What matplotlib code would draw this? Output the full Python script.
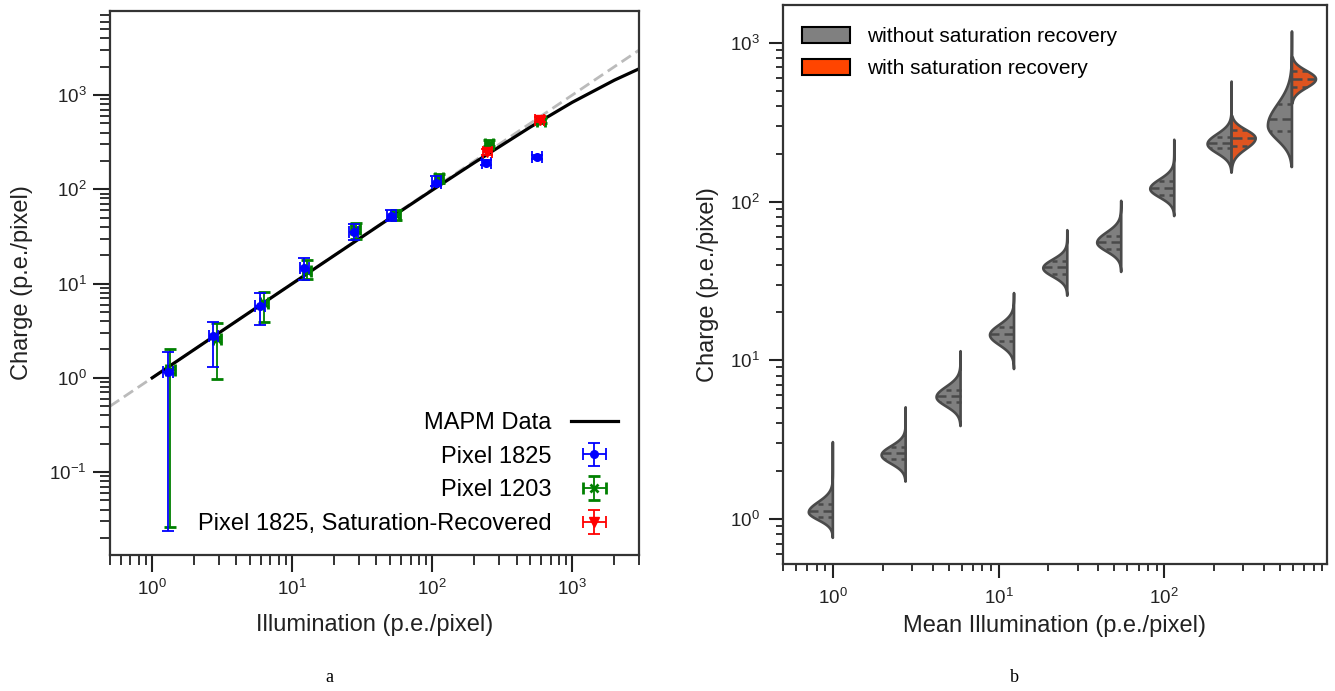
import numpy as np
import matplotlib
matplotlib.use("Agg")
import matplotlib.pyplot as plt
from matplotlib.patches import Patch

plt.rcParams["font.family"] = ["Liberation Sans", "DejaVu Sans"]
plt.rcParams["mathtext.fontset"] = "custom"
plt.rcParams["mathtext.rm"] = "Liberation Sans"
plt.rcParams["mathtext.it"] = "Liberation Sans:italic"
plt.rcParams["mathtext.bf"] = "Liberation Sans:bold"

# ---- panel a: charge vs illumination ----
mapm_x = [1, 2, 5, 10, 20, 50, 100, 200, 500, 1000, 2000, 3000]
mapm_y = [1.0, 2.0, 5.0, 9.98, 19.9, 49.5, 98, 192, 456, 838, 1440, 1900]
ident_x = [0.5, 3000]
ident_y = [0.5, 3000]

p1825_x = [1.30, 2.73, 5.9, 12.2, 27.5, 51, 107, 243, 562]
p1825_y = [1.15, 2.8, 5.8, 14.5, 35, 52, 118, 192, 218]
p1825_ylo = [0.024, 1.3, 3.6, 11.0, 29, 46, 108, 182, 208]
p1825_yhi = [1.9, 3.9, 7.9, 18.5, 43, 60, 138, 205, 230]
p1825_xerr = [0.1, 0.2, 0.45, 0.9, 2.0, 3.8, 8, 18, 42]

p1203_x = [1.35, 2.9, 6.3, 12.8, 28.5, 55, 112, 255, 600]
p1203_y = [1.2, 2.6, 6.3, 13.5, 38, 54, 132, 305, 530]
p1203_ylo = [0.026, 0.98, 3.9, 11.2, 30, 47, 118, 285, 500]
p1203_yhi = [2.0, 3.8, 8.2, 18.0, 44, 61, 145, 330, 570]
p1203_xerr = [0.1, 0.2, 0.45, 0.9, 2.0, 3.8, 8, 18, 42]

rec_x = [248, 585]
rec_y = [250, 545]
rec_ylo = [230, 515]
rec_yhi = [270, 580]
rec_xerr = [18, 42]

# ---- panel b: split violins ----
viol_x = [1.0, 2.75, 5.9, 12.4, 26, 55, 115, 255, 590]
gray_min = [0.76, 1.72, 3.85, 8.8, 25.5, 36, 81, 152, 165]
gray_max = [3.05, 5.05, 11.4, 26.5, 66, 101, 245, 570, 1180]
gray_mode = [1.1, 2.52, 5.85, 14.4, 38, 55, 120, 230, 300]
gray_body_lo = [0.83, 1.85, 4.2, 10.0, 28, 40, 88, 165, 178]
gray_body_hi = [1.6, 3.5, 8.5, 21, 52, 80, 170, 330, 650]
gray_q1 = [1.03, 2.38, 5.45, 13.2, 35, 50, 110, 216, 277]
gray_med = [1.12, 2.6, 5.95, 14.6, 38.5, 55.5, 121, 234, 330]
gray_q3 = [1.24, 2.85, 6.5, 16.2, 42, 61, 135, 256, 410]

red_x = [255, 590]
red_min = [155, 415]
red_max = [345, 810]
red_mode = [250, 590]
red_body_lo = [170, 430]
red_body_hi = [340, 800]
red_q1 = [223, 530]
red_med = [252, 595]
red_q3 = [282, 660]

EDGE = "#4a4a4a"
GRAY = "#7f7f7f"
RED = "#df5420"
HALF_W = 0.145  # max half width in decades of x


def profile(t, mode, body_lo, body_hi):
    m = np.log10(mode)
    s_lo = (m - np.log10(body_lo)) / 2.5
    s_hi = (np.log10(body_hi) - m) / 2.5
    s = np.where(t < m, s_lo, s_hi)
    return np.exp(-0.5 * ((t - m) / s) ** 2)


def half_violin(ax, xc, lo, hi, mode, blo, bhi, quarts, side, color):
    lx = np.log10(xc)
    t = np.linspace(np.log10(lo), np.log10(hi), 300)
    d = profile(t, mode, blo, bhi)
    xs = 10 ** (lx + side * HALF_W * d)
    px = np.concatenate([xs, [xc, xc]])
    py = np.concatenate([10 ** t, [hi, lo]])
    ax.fill(px, py, facecolor=color, edgecolor=EDGE, lw=1.9,
            joinstyle="round", zorder=2)
    for q, dash in zip(quarts, [(2.0, 2.0), (4.0, 2.0), (2.0, 2.0)]):
        dq = profile(np.log10(q), mode, blo, bhi)
        ax.plot([xc, 10 ** (lx + side * HALF_W * dq)], [q, q], color=EDGE,
                lw=1.8, dashes=dash, solid_capstyle="butt", zorder=3)


fig = plt.figure(figsize=(13.35, 6.91), dpi=100)
ax1 = fig.add_axes([0.0824, 0.1968, 0.3963, 0.7873])
ax2 = fig.add_axes([0.5865, 0.1838, 0.4075, 0.8089])

# panel a
ax1.plot(ident_x, ident_y, color="#bbbbbb", lw=2.0, ls=(0, (4, 2)), zorder=1)
mapm_line, = ax1.plot(mapm_x, mapm_y, color="black", lw=2.3, zorder=2,
                      label="MAPM Data")


def yerr_of(y, lo, hi):
    return [np.array(y) - np.array(lo), np.array(hi) - np.array(y)]


e1 = ax1.errorbar(p1825_x, p1825_y, yerr=yerr_of(p1825_y, p1825_ylo, p1825_yhi),
                  xerr=p1825_xerr, fmt="o", color="#0000ff", ms=5.5, elinewidth=1.3,
                  capsize=4.5, capthick=1.3, zorder=4, label="Pixel 1825")
e2 = ax1.errorbar(p1203_x, p1203_y, yerr=yerr_of(p1203_y, p1203_ylo, p1203_yhi),
                  xerr=p1203_xerr, fmt="x", color="#008000", ms=6, mew=2,
                  elinewidth=1.3, capsize=4.5, capthick=1.3, zorder=3,
                  label="Pixel 1203")
e3 = ax1.errorbar(rec_x, rec_y, yerr=yerr_of(rec_y, rec_ylo, rec_yhi),
                  xerr=rec_xerr, fmt="v", color="#ff0000", ms=7, elinewidth=1.3,
                  capsize=4.5, capthick=1.3, zorder=5,
                  label="Pixel 1825, Saturation-Recovered")

ax1.set_xscale("log")
ax1.set_yscale("log")
ax1.set_xlim(0.5, 3000)
ax1.set_ylim(0.0132, 7800)
ax1.set_xlabel("Illumination (p.e./pixel)", fontsize=17)
ax1.set_ylabel("Charge (p.e./pixel)", fontsize=17)
ax1.xaxis.set_label_coords(0.5, -0.108)
ax1.yaxis.set_label_coords(-0.146, 0.5)
ax1.legend(handles=[mapm_line, e1, e2, e3], loc="lower right",
           bbox_to_anchor=(0.978, 0.019), borderaxespad=0, frameon=False,
           markerfirst=False, fontsize=17)
ax1.tick_params(which="major", length=12, width=1.5, pad=5, labelsize=13.5,
                colors="#222222")
ax1.tick_params(which="minor", length=7, width=1.3, colors="#222222")

# panel b
for i in range(len(viol_x)):
    half_violin(ax2, viol_x[i], gray_min[i], gray_max[i], gray_mode[i],
                gray_body_lo[i], gray_body_hi[i],
                [gray_q1[i], gray_med[i], gray_q3[i]], -1, GRAY)
for i in range(len(red_x)):
    half_violin(ax2, red_x[i], red_min[i], red_max[i], red_mode[i],
                red_body_lo[i], red_body_hi[i],
                [red_q1[i], red_med[i], red_q3[i]], 1, RED)

ax2.set_xscale("log")
ax2.set_yscale("log")
ax2.set_xlim(0.5, 960)
ax2.set_ylim(0.52, 1730)
ax2.set_xlabel("Mean Illumination (p.e./pixel)", fontsize=17)
ax2.set_ylabel("Charge (p.e./pixel)", fontsize=17)
ax2.xaxis.set_label_coords(0.5, -0.092)
ax2.yaxis.set_label_coords(-0.118, 0.5)
leg_handles = [Patch(facecolor="#808080", edgecolor="black", lw=1.5,
                     label="without saturation recovery"),
               Patch(facecolor="#ff4500", edgecolor="black", lw=1.5,
                     label="with saturation recovery")]
ax2.legend(handles=leg_handles, loc="upper left", bbox_to_anchor=(0.02, 0.976),
           borderaxespad=0, frameon=False, fontsize=15, handlelength=2.3,
           handleheight=0.8, handletextpad=0.8, labelspacing=0.62)
ax2.tick_params(which="major", length=10, width=1.5, pad=7, labelsize=13.5,
                colors="#222222")
ax2.tick_params(which="minor", length=5, width=1.3, colors="#222222")

for ax in (ax1, ax2):
    for sp in ax.spines.values():
        sp.set_linewidth(1.6)
        sp.set_color("#333333")
    ax.xaxis.label.set_color("#222222")
    ax.yaxis.label.set_color("#222222")

fig.text(329 / 1335, 1 - 678 / 691, "a", family="Liberation Serif",
         fontsize=13, ha="center", va="center")
fig.text(1014 / 1335, 1 - 678 / 691, "b", family="Liberation Serif",
         fontsize=13, ha="center", va="center")

fig.savefig("out.png", dpi=100)
